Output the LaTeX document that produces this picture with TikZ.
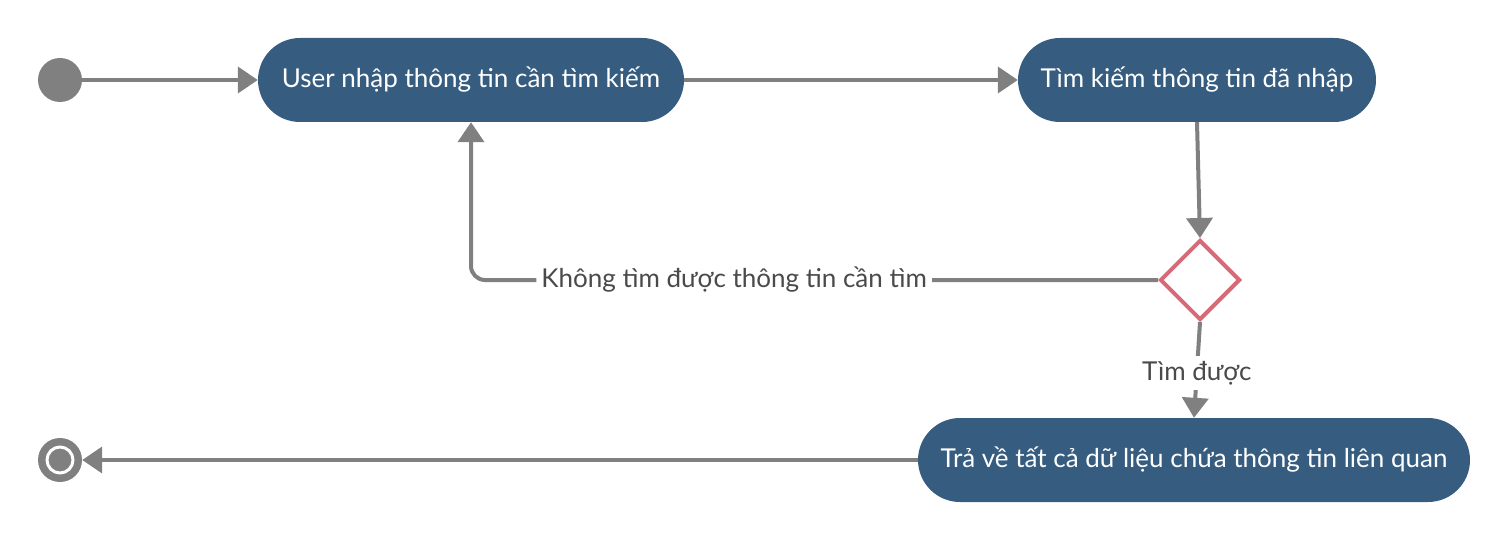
\documentclass[tikz,border=0pt]{standalone}
\usepackage{fontspec}
\setmainfont{Lato}
\usetikzlibrary{arrows.meta,shapes.geometric}
\definecolor{nodeblue}{HTML}{365D7F}
\definecolor{linegray}{HTML}{808080}
\definecolor{decred}{HTML}{D86A78}
\definecolor{labelgray}{HTML}{4A4A4A}
\begin{document}
\begin{tikzpicture}[x=1pt,y=-1pt,
  act/.style={rectangle,rounded corners=42pt,fill=nodeblue,text=white,minimum height=84pt,inner xsep=22pt,font=\fontsize{26}{30}\selectfont},
  flow/.style={draw=linegray,line width=4pt,-{Triangle[length=20pt,width=26pt]}},
  lbl/.style={fill=white,text=labelgray,font=\fontsize{26}{30}\selectfont,inner sep=5pt}]
\useasboundingbox (0,0) rectangle (1510,540);
\node[circle,fill=linegray,minimum size=44pt,inner sep=0] (start) at (60,80) {};
\node[act,minimum width=426pt] (a) at (471,80) {User nhập thông tin cần tìm kiếm};
\node[act,minimum width=358pt] (b) at (1197,80) {Tìm kiếm thông tin đã nhập};
\node[diamond,draw=decred,line width=4pt,fill=white,minimum width=80pt,minimum height=80pt,inner sep=0] (d) at (1200,280) {};
\node[act,minimum width=552pt] (c) at (1194,460) {Trả về tất cả dữ liệu chứa thông tin liên quan};
\node[circle,fill=linegray,minimum size=44pt,inner sep=0] (end) at (60,460) {};
\node[circle,draw=white,line width=3pt,fill=linegray,minimum size=26pt,inner sep=0] (endin) at (end) {};
\draw[flow] (start) -- (a);
\draw[flow] (a) -- (b);
\draw[flow] (b.south) -- (d.north);
\draw[flow] (d.south) -- node[lbl,pos=0.53]{Tìm được} (c.north);
\draw[flow,rounded corners=14pt] (d.west) -- node[lbl,pos=0.617]{Không tìm được thông tin cần tìm} (a.south |- d.west) -- (a.south);
\draw[flow] (c) -- (end);
\end{tikzpicture}
\end{document}
